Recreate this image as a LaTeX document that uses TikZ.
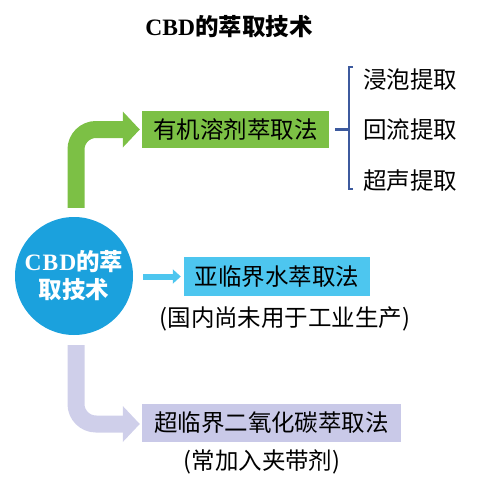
\documentclass[tikz,border=0pt]{standalone}
\usepackage{fontspec}
\setmainfont{Noto Sans CJK SC}
\newfontfamily\latinserif{Liberation Serif}
\usetikzlibrary{arrows.meta,calc}

\definecolor{leafgreen}{HTML}{7CC045}
\definecolor{discblue}{HTML}{1BA1DD}
\definecolor{skyblue}{HTML}{4DC6EF}
\definecolor{lavender}{HTML}{C9C9E8}
\definecolor{lavarrow}{HTML}{CFCFEA}
\definecolor{bracketblue}{HTML}{3D5A9E}

\tikzset{
  methodbox/.style={inner sep=0pt, minimum height=38pt, font=\fontsize{23.5}{26}\selectfont, text=black},
  plain/.style={inner sep=0pt, font=\fontsize{23.5}{26}\selectfont, text=black},
  bigarrow/.style={line width=17pt, rounded corners=20pt,
    -{Triangle[length=17pt 0 0, width=35pt 0 0]}},
  bracketline/.style={draw=bracketblue, line width=2.2pt}
}

\begin{document}
\begin{tikzpicture}[x=1pt, y=-1pt]
\useasboundingbox (0,0) rectangle (486,491);

% title
\node (title) at (229,27) {\fontsize{23.5}{26}\selectfont\latinserif\bfseries CBD\normalfont\bfseries 的萃取技术};

% central disc
\node[circle, fill=discblue, minimum size=118pt, inner sep=0pt, text=white,
      align=center, font=\fontsize{23.5}{28}\selectfont\bfseries] (core) at (74,276)
      {{\latinserif\bfseries C\kern1pt B\kern1pt D}的萃\\取技术};

% three extraction methods
\node[methodbox, fill=leafgreen, minimum width=187pt, minimum height=37pt] (organic) at (235.5,129.5) {有机溶剂萃取法};
\node[methodbox, fill=skyblue, minimum width=186pt, minimum height=39pt] (subcrit) at (277,276.5) {亚临界水萃取法};
\node[methodbox, fill=lavender, minimum width=259pt] (supercrit) at (271.5,423) {超临界二氧化碳萃取法};

% notes under the boxes
\node[plain] (subnote) at (285,319) {(国内尚未用于工业生产)};
\node[plain] (supnote) at (262,462) {(常加入夹带剂)};

% organic solvent sub-methods
\node[plain] (soak) at (410,80) {浸泡提取};
\node[plain] (reflux) at (410,130) {回流提取};
\node[plain] (ultra) at (410,181) {超声提取};

% bracket grouping the sub-methods
\coordinate (btop) at (349,67);
\coordinate (bbot) at (349,189);
\draw[bracketline] ($(btop)+(4,0)$) -- (btop) -- (bbot) -- ($(bbot)+(4,0)$);
\draw[bracketline] ($(organic.east)+(6,0)$) -- (organic.east -| btop);

% connectors from the disc
\draw[bigarrow, draw=leafgreen]
  ($(core.north)+(2,-9)$) |- ($(organic.west)+(-2,0)$);
\draw[draw=skyblue, line width=6pt, -{Triangle[length=8pt 0 0, width=14pt 0 0]}]
  ($(core.east)+(10,0.5)$) -- ($(subcrit.west)+(-3,0)$);
\draw[bigarrow, draw=lavarrow]
  ($(core.south)+(2,10)$) |- ($(supercrit.west)+(-2,1)$);
\end{tikzpicture}
\end{document}
